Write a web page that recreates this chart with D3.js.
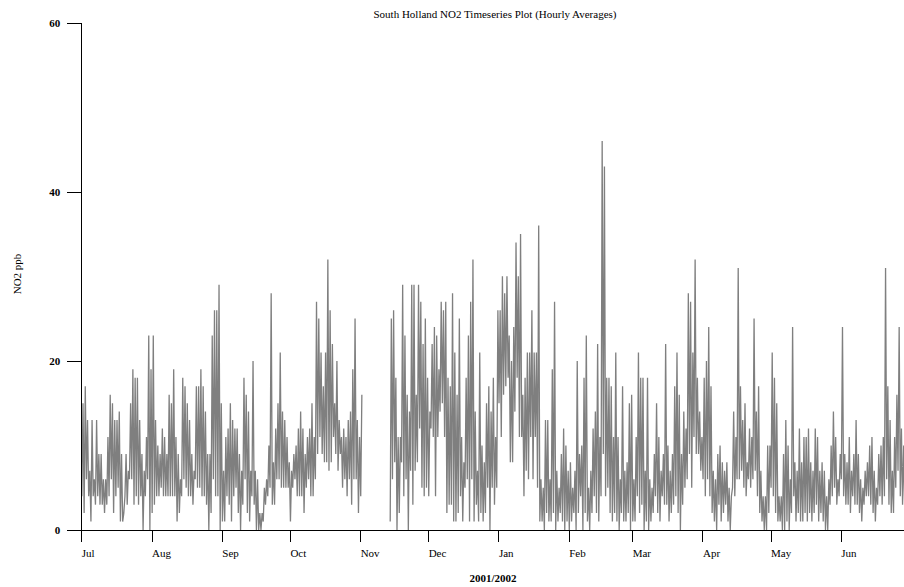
<!DOCTYPE html>
<html>
<head>
<meta charset="utf-8">
<script src="https://cdn.jsdelivr.net/npm/d3@7"></script>
<style>
  body { margin: 0; background: #fff; }
  svg { display: block; }
  text { font-family: "Liberation Serif", "DejaVu Serif", serif; fill: #000; }
</style>
</head>
<body>
<svg id="chart" width="904" height="587"></svg>
<script>
// South Holland NO2 (ppb), July 2001 - June 2002.
// Each month holds one [low, high] pair per day (morning / evening readings);
// null marks days with no monitoring data.
const yTicks = [0, 20, 40, 60];
const titleText = "South Holland NO2 Timeseries Plot (Hourly Averages)";
const xLabel = "2001/2002";
const yLabel = "NO2 ppb";

const jul = [[4,15],[2,17],[6,13],[4,7],[1,13],[4,6],[3,13],[4,9],[3,9],[3,6],
  [2,6],[3,11],[4,16],[6,15],[2,13],[4,13],[5,14],[1,9],[1,2],[4,9],
  [3,7],[6,15],[6,19],[3,18],[4,18],[3,13],[4,9],[0,7],[4,11],[6,23],[0,19]];
const aug = [[2,23],[3,13],[4,10],[4,9],[5,12],[4,11],[4,9],[4,16],[4,15],[4,19],
  [4,11],[1,9],[2,6],[4,18],[6,17],[5,15],[4,13],[4,9],[3,7],[6,17],
  [5,17],[5,19],[4,17],[4,14],[3,9],[0,9],[2,23],[6,26],[4,26],[4,29],[0,15]];
const sep = [[1,7],[1,11],[4,12],[3,15],[1,13],[4,12],[5,12],[2,9],[0,7],[3,18],
  [6,16],[2,14],[1,7],[4,20],[3,7],[0,6],[0,2],[0,2],[1,5],[3,6],
  [4,10],[5,28],[3,8],[3,12],[6,15],[6,21],[5,14],[5,13],[5,11],[5,8]];
const oct = [[1,7],[5,9],[6,10],[4,12],[4,14],[4,12],[2,9],[5,11],[6,12],[4,15],
  [4,11],[6,27],[9,25],[11,21],[9,17],[8,21],[8,32],[7,26],[8,22],[11,15],
  [9,20],[7,13],[9,11],[5,12],[6,11],[4,13],[6,14],[3,19],[6,25],[6,13],[2,11]];
const nov = [[4,16],null,null,null,null,null,null,null,null,null,
  null,null,null,[1,25],[6,26],[8,18],[0,11],[2,11],[8,29],[4,23],
  [6,16],[0,14],[7,29],[3,29],[7,16],[8,29],[12,27],[5,22],[4,25],[5,18]];
const dec = [[4,14],[12,22],[11,24],[4,23],[11,19],[14,27],[15,26],[11,27],[2,18],[3,17],
  [3,28],[1,21],[1,16],[2,25],[4,11],[1,8],[5,18],[6,23],[1,27],[6,32],
  [1,14],[3,7],[1,21],[2,10],[1,8],[2,15],[5,17],[0,14],[5,18],[3,11],[5,26]];
const jan = [[15,26],[11,30],[16,28],[17,30],[18,23],[8,20],[8,24],[14,34],[18,30],[11,35],
  [11,16],[4,18],[7,21],[6,21],[11,26],[6,21],[11,21],[5,36],[1,6],[1,5],
  [0,13],[2,13],[1,6],[1,19],[2,27],[0,7],[1,5],[2,9],[1,12],[0,10],[1,7]];
const feb = [[0,8],[1,5],[2,7],[0,20],[2,9],[4,10],[0,18],[2,23],[1,5],[0,7],
  [2,12],[4,14],[2,22],[1,11],[4,46],[9,43],[4,18],[5,18],[2,17],[1,11],
  [2,21],[1,11],[0,6],[2,17],[1,7],[1,8],[2,15],[0,16]];
const mar = [[1,6],[1,11],[4,21],[2,18],[3,18],[0,7],[1,18],[0,6],[1,5],[2,9],
  [4,15],[2,11],[1,7],[4,9],[3,22],[3,10],[1,7],[2,9],[3,17],[4,21],
  [2,16],[0,9],[3,14],[5,12],[6,28],[9,27],[5,21],[11,32],[9,18],[9,14],[7,11]];
const apr = [[6,18],[4,20],[6,24],[4,17],[2,7],[1,6],[0,9],[3,10],[1,8],[2,7],
  [3,8],[1,5],[0,4],[5,14],[4,11],[6,31],[6,17],[7,13],[5,15],[4,8],
  [6,12],[5,11],[6,25],[7,14],[4,17],[2,7],[1,4],[0,4],[0,10],[2,10]];
const may = [[5,21],[4,18],[2,15],[1,4],[1,4],[0,9],[0,13],[1,10],[0,6],[2,24],
  [4,8],[1,7],[2,12],[1,8],[1,11],[2,11],[1,12],[2,8],[1,7],[2,12],
  [3,11],[1,7],[2,8],[1,7],[0,4],[0,6],[3,10],[4,14],[5,11],[3,6],[4,9]];
const jun = [[6,24],[4,9],[3,8],[3,11],[2,7],[4,9],[3,13],[3,9],[2,6],[1,5],
  [3,7],[4,8],[4,10],[3,11],[2,7],[1,5],[3,9],[4,10],[3,11],[4,31],
  [6,17],[3,13],[2,7],[2,11],[5,16],[7,24],[4,12],[3,10],[2,9],[3,8]];

const months = [jul, aug, sep, oct, nov, dec, jan, feb, mar, apr, may, jun];
const start = new Date(2001, 6, 1);
const end = new Date(2002, 6, 1);

// Flatten the daily pairs into a time-ordered series.
const series = [];
months.forEach((days, m) => {
  const first = d3.timeMonth.offset(start, m);
  days.forEach((pair, i) => {
    const day = d3.timeDay.offset(first, i);
    if (pair === null) {
      series.push({ t: d3.timeHour.offset(day, 12), v: null });
      return;
    }
    series.push({ t: d3.timeHour.offset(day, 6), v: pair[0] });
    series.push({ t: d3.timeHour.offset(day, 18), v: pair[1] });
  });
});

const svg = d3.select("#chart");
const x = d3.scaleTime().domain([start, end]).range([81.3, 908.8]);
const y = d3.scaleLinear().domain([0, 60]).range([530, 22.7]);

// Data trace
const line = d3.line()
  .defined(d => d.v !== null)
  .x(d => x(d.t))
  .y(d => y(d.v));

svg.append("path")
  .datum(series)
  .attr("fill", "none")
  .attr("stroke", "#7f7f7f")
  .attr("stroke-width", 1.3)
  .attr("stroke-linejoin", "miter")
  .attr("d", line);

// Y axis
const yAxis = svg.append("g")
  .attr("transform", "translate(81.3,0)")
  .call(d3.axisLeft(y).tickValues(yTicks).tickSize(14).tickSizeOuter(0).tickPadding(7));
yAxis.selectAll("text")
  .style("font-family", '"Liberation Serif", serif')
  .style("font-size", "11px")
  .style("font-weight", "bold");

// X axis: one tick at the start of each month
const xAxis = svg.append("g")
  .attr("transform", "translate(0,530)")
  .call(d3.axisBottom(x)
    .tickValues(d3.timeMonth.range(start, end))
    .tickFormat(d3.timeFormat("%b"))
    .tickSize(12).tickSizeOuter(0).tickPadding(7));
xAxis.selectAll("text")
  .attr("text-anchor", "start")
  .style("font-family", '"Liberation Serif", serif')
  .style("font-size", "11px");

svg.selectAll(".domain, .tick line")
  .attr("stroke", "#000")
  .attr("stroke-width", 1)
  .attr("shape-rendering", "crispEdges");

// Titles
svg.append("text")
  .attr("x", 495).attr("y", 18)
  .attr("text-anchor", "middle")
  .style("font-size", "11px")
  .text(titleText);

svg.append("text")
  .attr("x", 493).attr("y", 582)
  .attr("text-anchor", "middle")
  .style("font-size", "11px")
  .style("font-weight", "bold")
  .text(xLabel);

svg.append("text")
  .attr("transform", "translate(21,274) rotate(-90)")
  .attr("text-anchor", "middle")
  .style("font-size", "11px")
  .text(yLabel);
</script>
</body>
</html>
